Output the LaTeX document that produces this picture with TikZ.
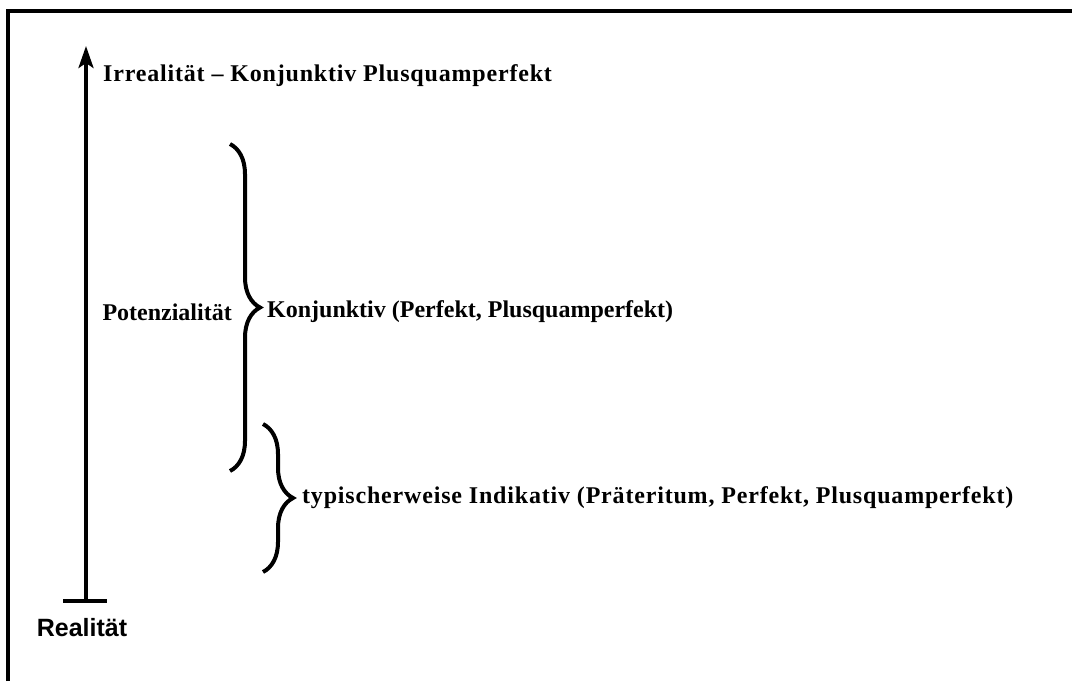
\documentclass[tikz,border=0pt]{standalone}
\usepackage{fontspec}
\setmainfont{Liberation Serif}
\newfontfamily\realfont{Liberation Sans}
\newfontfamily\widefont[LetterSpace=3.4]{Liberation Serif}
\usetikzlibrary{arrows.meta,decorations.pathreplacing,positioning}

\begin{document}
\begin{tikzpicture}[x=1pt,y=-1pt,
  lbl/.style={font=\bfseries\fontsize{24}{28}\selectfont,inner sep=0pt},
  widelbl/.style={font=\widefont\bfseries\fontsize{24}{28}\selectfont,inner sep=0pt},
  brc/.style={decorate,decoration={brace,amplitude=30pt},line width=4pt}]
\useasboundingbox (0,0) rectangle (1072,681);
\draw[line width=3.5pt] (8,681) -- (8,11) -- (1072,11);
% axis
\coordinate (real) at (86,601);
\coordinate (irreal) at (86,46);
\draw[line width=3.5pt,-{Stealth[length=22pt,width=15pt,inset=5pt]}] (real) -- (irreal);
\draw[line width=3.5pt] ([xshift=-23pt]real) -- ([xshift=21pt]real);
\node[font=\realfont\bfseries\fontsize{25}{30}\selectfont,inner sep=0pt] (realtxt) at (82,628) {Realität};
\node[widelbl,anchor=west] (irrtxt) at (103,76) {Irrealität – Konjunktiv Plusquamperfekt};
% braces
\coordinate (bigtop) at (230,144);
\coordinate (bigbot) at (230,471);
\coordinate (bigtip) at (260,312);
\draw[brc] (bigtop) -- (bigbot);
\node[lbl,right=7pt of bigtip] (konj) {Konjunktiv (Perfekt, Plusquamperfekt)};
\node[lbl,left=28pt of bigtip] (pot) {Potenzialität};
\coordinate (smalltop) at (263,424);
\coordinate (smallbot) at (263,572);
\coordinate (smalltip) at (293,498);
\draw[brc] (smalltop) -- (smallbot);
\node[widelbl,right=9pt of smalltip] (ind) {typischerweise Indikativ (Präteritum, Perfekt, Plusquamperfekt)};
\end{tikzpicture}
\end{document}
